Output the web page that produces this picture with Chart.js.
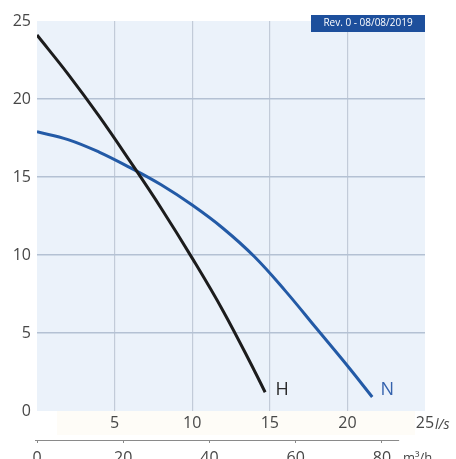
<!DOCTYPE html>
<html>
<head>
<meta charset="utf-8">
<script src="https://cdn.jsdelivr.net/npm/chart.js@4.4.1/dist/chart.umd.min.js"></script>
<style>
html,body{margin:0;padding:0;background:#fff;}
#wrap{width:456px;height:459px;position:relative;}
</style>
</head>
<body>
<div id="wrap"><canvas id="c" width="456" height="459"></canvas></div>
<script>
// Data (flow in l/s, head in m)
const hFlow = [0, 2, 4, 6, 8, 10, 12, 14, 14.7];
const hHead = [24.1, 21.6, 18.9, 16.0, 13.0, 9.8, 6.4, 2.6, 1.2];
const nFlow = [0, 2, 4, 6, 8, 10, 12, 14, 16, 18, 20, 21.6];
const nHead = [17.9, 17.4, 16.6, 15.6, 14.5, 13.2, 11.7, 9.9, 7.7, 5.3, 2.9, 0.9];
const seriesNames = ['H', 'N'];
const yTicks = [0, 5, 10, 15, 20, 25];
const xTicks = [5, 10, 15, 20, 25];
const x2Ticks = [0, 20, 40, 60, 80];
const revLabel = 'Rev. 0 - 08/08/2019';
const xUnit = 'l/s';
const x2Unit = 'm³/h';
const LS_TO_M3H = 3.6;

const FONT = '"Open Sans", "DejaVu Sans", sans-serif';
const TICK_COLOR = '#474747';

const toPts = (xs, ys) => xs.map((x, i) => ({x: x, y: ys[i]}));

const decor = {
  id: 'decor',
  beforeDraw(chart) {
    const {ctx, chartArea: a} = chart;
    ctx.save();
    ctx.fillStyle = '#fefcf7';
    ctx.fillRect(a.left + 20, a.bottom, a.right - a.left - 30, 24);
    ctx.fillStyle = '#ebf2fa';
    ctx.fillRect(a.left, a.top, a.right - a.left, a.bottom - a.top);
    ctx.restore();
  },
  afterDraw(chart) {
    const {ctx, chartArea: a, scales} = chart;
    const x = scales.x, y = scales.y, x2 = scales.x2;
    ctx.save();
    // secondary axis line
    ctx.strokeStyle = '#8a8a8a';
    ctx.lineWidth = 1.2;
    ctx.beginPath();
    ctx.moveTo(x2.getPixelForValue(0) - 2, x2.top + 0.5);
    ctx.lineTo(x2.getPixelForValue(84), x2.top + 0.5);
    ctx.stroke();
    // units
    ctx.fillStyle = TICK_COLOR;
    ctx.textBaseline = 'middle';
    ctx.textAlign = 'left';
    ctx.font = 'italic 14px ' + FONT;
    ctx.fillText(xUnit, x.getPixelForValue(25) + 10, 425);
    ctx.font = '13px ' + FONT;
    ctx.fillText(x2Unit, x2.getPixelForValue(80) + 21, 458);
    // curve labels
    const hEnd = {x: hFlow[hFlow.length - 1], y: hHead[hHead.length - 1]};
    const nEnd = {x: nFlow[nFlow.length - 1], y: nHead[nHead.length - 1]};
    ctx.textAlign = 'center';
    ctx.font = '18px ' + FONT;
    ctx.fillStyle = '#2b2b2b';
    ctx.fillText(seriesNames[0], x.getPixelForValue(hEnd.x) + 17, y.getPixelForValue(hEnd.y) - 2);
    ctx.fillStyle = '#3462ad';
    ctx.fillText(seriesNames[1], x.getPixelForValue(nEnd.x) + 15, y.getPixelForValue(nEnd.y) - 7);
    // revision badge
    ctx.fillStyle = '#1d4f9c';
    ctx.fillRect(311, 15, 114, 17);
    ctx.fillStyle = '#ffffff';
    ctx.font = '10px ' + FONT;
    ctx.textAlign = 'center';
    ctx.fillText(revLabel, 368, 23.5, 102);
    ctx.restore();
  }
};

new Chart(document.getElementById('c'), {
  type: 'scatter',
  data: {
    datasets: [
      {
        label: seriesNames[0],
        data: toPts(hFlow, hHead),
        showLine: true,
        borderColor: '#1c1c1c',
        borderWidth: 3,
        pointRadius: 0,
        tension: 0.4,
        fill: false
      },
      {
        label: seriesNames[1],
        data: toPts(nFlow, nHead),
        showLine: true,
        borderColor: '#235aa6',
        borderWidth: 3,
        pointRadius: 0,
        tension: 0.4,
        fill: false
      }
    ]
  },
  options: {
    responsive: false,
    animation: false,
    events: [],
    layout: {padding: {top: 21, right: 31, left: 0, bottom: 0}},
    plugins: {legend: {display: false}, tooltip: {enabled: false}},
    scales: {
      x: {
        type: 'linear', position: 'bottom', min: 0, max: 25,
        afterBuildTicks: s => { s.ticks = xTicks.map(v => ({value: v})); },
        afterFit: s => { s.height = 29; },
        border: {display: false},
        grid: {
          drawTicks: false,
          color: c => (c.tick && (c.tick.value === 0 || c.tick.value === 25)) ? 'rgba(0,0,0,0)' : '#c2cbd8',
          lineWidth: 1.2
        },
        ticks: {padding: 3, color: TICK_COLOR, font: {family: FONT, size: 16}, maxRotation: 0, autoSkip: false}
      },
      x2: {
        type: 'linear', position: 'bottom', min: 0, max: 25 * LS_TO_M3H,
        afterBuildTicks: s => { s.ticks = x2Ticks.map(v => ({value: v})); },
        afterFit: s => { s.height = 19; },
        border: {display: false},
        grid: {drawOnChartArea: false, drawTicks: true, tickLength: 3, color: '#8a8a8a', lineWidth: 1},
        ticks: {padding: 6, color: TICK_COLOR, font: {family: FONT, size: 16}, maxRotation: 0, autoSkip: false}
      },
      y: {
        type: 'linear', min: 0, max: 25,
        afterBuildTicks: s => { s.ticks = yTicks.map(v => ({value: v})); },
        afterFit: s => { s.width = 37; },
        border: {display: false},
        grid: {
          drawTicks: false,
          color: c => (c.tick && (c.tick.value === 0 || c.tick.value === 25)) ? 'rgba(0,0,0,0)' : '#b4c1d3',
          lineWidth: 1.6
        },
        ticks: {padding: 6, color: TICK_COLOR, font: {family: FONT, size: 16}}
      }
    }
  },
  plugins: [decor]
});
</script>
</body>
</html>
